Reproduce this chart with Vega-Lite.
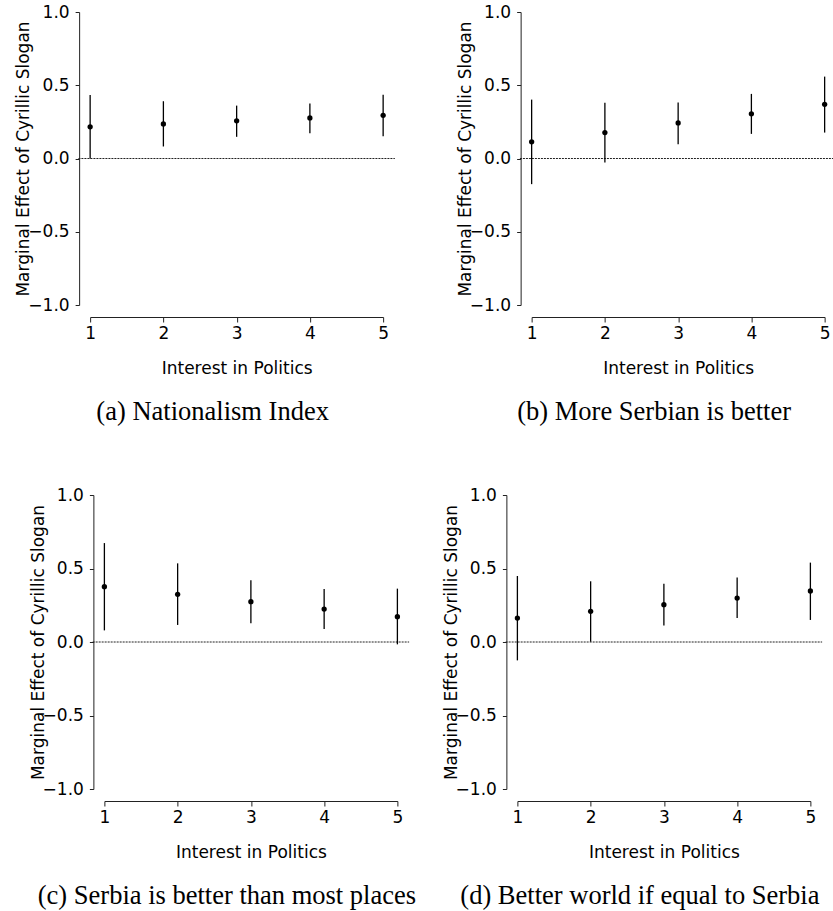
{
  "$schema": "https://vega.github.io/schema/vega-lite/v6.json",
  "padding": {"left": 14, "top": 3, "right": 0, "bottom": 0},
  "background": "white",
  "config": {
    "view": {"stroke": null},
    "axis": {
      "labelFont": "DejaVu Sans", "labelFontSize": 17, "labelColor": "black",
      "titleFont": "DejaVu Sans", "titleFontSize": 17, "titleFontWeight": "normal", "titleColor": "black",
      "domainColor": "#222", "tickColor": "#222", "domainWidth": 1, "tickWidth": 1,
      "grid": false, "labelFlush": false, "labelOverlap": false
    },
    "title": {"font": "Liberation Serif", "fontSize": 26.5, "fontWeight": "normal", "color": "black", "orient": "bottom", "anchor": "middle", "frame": "group", "dx": -24, "offset": 23}
  },
  "datasets": {
    "a": [
      {"interest": 1, "est": 0.216, "lo": 0.000, "hi": 0.434},
      {"interest": 2, "est": 0.236, "lo": 0.082, "hi": 0.391},
      {"interest": 3, "est": 0.257, "lo": 0.148, "hi": 0.361},
      {"interest": 4, "est": 0.277, "lo": 0.173, "hi": 0.375},
      {"interest": 5, "est": 0.295, "lo": 0.152, "hi": 0.436}
    ],
    "b": [
      {"interest": 1, "est": 0.114, "lo": -0.175, "hi": 0.402},
      {"interest": 2, "est": 0.177, "lo": -0.027, "hi": 0.380},
      {"interest": 3, "est": 0.243, "lo": 0.098, "hi": 0.382},
      {"interest": 4, "est": 0.305, "lo": 0.168, "hi": 0.441},
      {"interest": 5, "est": 0.370, "lo": 0.177, "hi": 0.559}
    ],
    "c": [
      {"interest": 1, "est": 0.376, "lo": 0.079, "hi": 0.673},
      {"interest": 2, "est": 0.324, "lo": 0.116, "hi": 0.535},
      {"interest": 3, "est": 0.274, "lo": 0.127, "hi": 0.420},
      {"interest": 4, "est": 0.224, "lo": 0.088, "hi": 0.361},
      {"interest": 5, "est": 0.172, "lo": -0.016, "hi": 0.363}
    ],
    "d": [
      {"interest": 1, "est": 0.163, "lo": -0.125, "hi": 0.449},
      {"interest": 2, "est": 0.209, "lo": 0.002, "hi": 0.413},
      {"interest": 3, "est": 0.254, "lo": 0.113, "hi": 0.397},
      {"interest": 4, "est": 0.299, "lo": 0.163, "hi": 0.438},
      {"interest": 5, "est": 0.347, "lo": 0.150, "hi": 0.540}
    ],
    "ref": [{"zero": 0}]
  },
  "vconcat": [
    {
      "hconcat": [
        {
          "width": 293, "height": 293,
          "title": {"text": "(a) Nationalism Index"},
          "layer": [
            {
              "data": {"name": "ref"},
              "mark": {"type": "rule", "color": "#222", "strokeWidth": 1, "strokeDash": [2, 1]},
              "encoding": {"x": {"datum": 0.84, "type": "quantitative"}, "x2": {"datum": 5.16}, "y": {"field": "zero", "type": "quantitative"}}
            },
            {
              "data": {"name": "a"},
              "mark": {"type": "rule", "color": "black", "strokeWidth": 1.3},
              "encoding": {
                "x": {"field": "interest", "type": "quantitative", "scale": {"domain": [1, 5], "nice": false, "zero": false},
                      "axis": {"values": [1, 2, 3, 4, 5], "format": "d", "title": "Interest in Politics", "offset": 12, "tickSize": 5, "labelPadding": 3, "titlePadding": 19}},
                "y": {"field": "lo", "type": "quantitative", "scale": {"domain": [-1, 1], "nice": false},
                      "axis": {"values": [-1, -0.5, 0, 0.5, 1], "format": ".1f", "title": "Marginal Effect of Cyrillic Slogan", "offset": 11, "tickSize": 4, "labelPadding": 6, "titlePadding": -5}},
                "y2": {"field": "hi"}
              }
            },
            {
              "data": {"name": "a"},
              "mark": {"type": "circle", "color": "black", "opacity": 1, "size": 28},
              "encoding": {"x": {"field": "interest", "type": "quantitative"}, "y": {"field": "est", "type": "quantitative"}}
            }
          ]
        },
        {
          "width": 293, "height": 293,
          "title": {"text": "(b) More Serbian is better"},
          "layer": [
            {
              "data": {"name": "ref"},
              "mark": {"type": "rule", "color": "#222", "strokeWidth": 1, "strokeDash": [2, 1]},
              "encoding": {"x": {"datum": 0.84, "type": "quantitative"}, "x2": {"datum": 5.16}, "y": {"field": "zero", "type": "quantitative"}}
            },
            {
              "data": {"name": "b"},
              "mark": {"type": "rule", "color": "black", "strokeWidth": 1.3},
              "encoding": {
                "x": {"field": "interest", "type": "quantitative", "scale": {"domain": [1, 5], "nice": false, "zero": false},
                      "axis": {"values": [1, 2, 3, 4, 5], "format": "d", "title": "Interest in Politics", "offset": 12, "tickSize": 5, "labelPadding": 3, "titlePadding": 19}},
                "y": {"field": "lo", "type": "quantitative", "scale": {"domain": [-1, 1], "nice": false},
                      "axis": {"values": [-1, -0.5, 0, 0.5, 1], "format": ".1f", "title": "Marginal Effect of Cyrillic Slogan", "offset": 11, "tickSize": 4, "labelPadding": 6, "titlePadding": -5}},
                "y2": {"field": "hi"}
              }
            },
            {
              "data": {"name": "b"},
              "mark": {"type": "circle", "color": "black", "opacity": 1, "size": 28},
              "encoding": {"x": {"field": "interest", "type": "quantitative"}, "y": {"field": "est", "type": "quantitative"}}
            }
          ]
        }
      ],
      "spacing": 59.5
    },
    {
      "hconcat": [
        {
          "width": 293, "height": 294,
          "title": {"text": "(c) Serbia is better than most places"},
          "layer": [
            {
              "data": {"name": "ref"},
              "mark": {"type": "rule", "color": "#222", "strokeWidth": 1, "strokeDash": [2, 1]},
              "encoding": {"x": {"datum": 0.84, "type": "quantitative"}, "x2": {"datum": 5.16}, "y": {"field": "zero", "type": "quantitative"}}
            },
            {
              "data": {"name": "c"},
              "mark": {"type": "rule", "color": "black", "strokeWidth": 1.3},
              "encoding": {
                "x": {"field": "interest", "type": "quantitative", "scale": {"domain": [1, 5], "nice": false, "zero": false},
                      "axis": {"values": [1, 2, 3, 4, 5], "format": "d", "title": "Interest in Politics", "offset": 12, "tickSize": 5, "labelPadding": 3, "titlePadding": 19}},
                "y": {"field": "lo", "type": "quantitative", "scale": {"domain": [-1, 1], "nice": false},
                      "axis": {"values": [-1, -0.5, 0, 0.5, 1], "format": ".1f", "title": "Marginal Effect of Cyrillic Slogan", "offset": 11, "tickSize": 4, "labelPadding": 6, "titlePadding": -5}},
                "y2": {"field": "hi"}
              }
            },
            {
              "data": {"name": "c"},
              "mark": {"type": "circle", "color": "black", "opacity": 1, "size": 28},
              "encoding": {"x": {"field": "interest", "type": "quantitative"}, "y": {"field": "est", "type": "quantitative"}}
            }
          ]
        },
        {
          "width": 293, "height": 294,
          "title": {"text": "(d) Better world if equal to Serbia"},
          "layer": [
            {
              "data": {"name": "ref"},
              "mark": {"type": "rule", "color": "#222", "strokeWidth": 1, "strokeDash": [2, 1]},
              "encoding": {"x": {"datum": 0.84, "type": "quantitative"}, "x2": {"datum": 5.16}, "y": {"field": "zero", "type": "quantitative"}}
            },
            {
              "data": {"name": "d"},
              "mark": {"type": "rule", "color": "black", "strokeWidth": 1.3},
              "encoding": {
                "x": {"field": "interest", "type": "quantitative", "scale": {"domain": [1, 5], "nice": false, "zero": false},
                      "axis": {"values": [1, 2, 3, 4, 5], "format": "d", "title": "Interest in Politics", "offset": 12, "tickSize": 5, "labelPadding": 3, "titlePadding": 19}},
                "y": {"field": "lo", "type": "quantitative", "scale": {"domain": [-1, 1], "nice": false},
                      "axis": {"values": [-1, -0.5, 0, 0.5, 1], "format": ".1f", "title": "Marginal Effect of Cyrillic Slogan", "offset": 11, "tickSize": 4, "labelPadding": 6, "titlePadding": -5}},
                "y2": {"field": "hi"}
              }
            },
            {
              "data": {"name": "d"},
              "mark": {"type": "circle", "color": "black", "opacity": 1, "size": 28},
              "encoding": {"x": {"field": "interest", "type": "quantitative"}, "y": {"field": "est", "type": "quantitative"}}
            }
          ]
        }
      ],
      "spacing": 25
    }
  ],
  "center": true,
  "spacing": 60
}
